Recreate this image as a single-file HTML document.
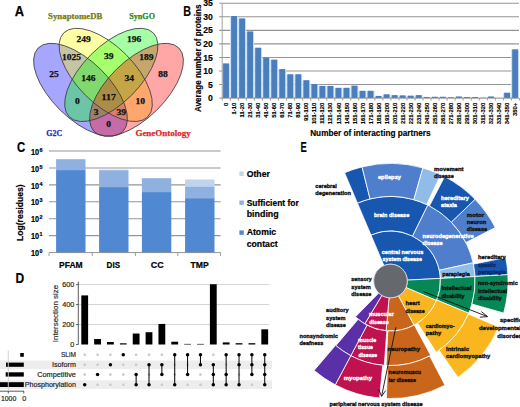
<!DOCTYPE html>
<html><head><meta charset="utf-8"><style>
html,body{margin:0;padding:0;background:#fff;}
body{width:520px;height:407px;overflow:hidden;position:relative;font-family:"Liberation Sans", sans-serif;}
svg{position:absolute;left:0;top:0;display:block;}
</style></head><body>
<svg width="520" height="407" viewBox="0 0 520 407">
<rect width="520" height="407" fill="#fff"/>
<ellipse cx="80.50" cy="89.80" rx="59.50" ry="28.70" transform="rotate(44.6 80.50 89.80)" fill="#0000ff" fill-opacity="0.35" stroke="none"/>
<ellipse cx="105.70" cy="74.90" rx="59.40" ry="28.70" transform="rotate(45 105.70 74.90)" fill="#ffff00" fill-opacity="0.35" stroke="none"/>
<ellipse cx="111.30" cy="74.90" rx="59.40" ry="28.70" transform="rotate(-45 111.30 74.90)" fill="#00ff00" fill-opacity="0.35" stroke="none"/>
<ellipse cx="136.50" cy="89.80" rx="59.50" ry="28.70" transform="rotate(-44.6 136.50 89.80)" fill="#ff0000" fill-opacity="0.35" stroke="none"/>
<ellipse cx="80.50" cy="89.80" rx="59.50" ry="28.70" transform="rotate(44.6 80.50 89.80)" fill="none" stroke="#3a3a3a" stroke-width="0.8"/>
<ellipse cx="105.70" cy="74.90" rx="59.40" ry="28.70" transform="rotate(45 105.70 74.90)" fill="none" stroke="#3a3a3a" stroke-width="0.8"/>
<ellipse cx="111.30" cy="74.90" rx="59.40" ry="28.70" transform="rotate(-45 111.30 74.90)" fill="none" stroke="#3a3a3a" stroke-width="0.8"/>
<ellipse cx="136.50" cy="89.80" rx="59.50" ry="28.70" transform="rotate(-44.6 136.50 89.80)" fill="none" stroke="#3a3a3a" stroke-width="0.8"/>
<text x="83.50" y="41.50" font-size="8.0" font-weight="bold" fill="#111" text-anchor="middle" font-family='"Liberation Serif", serif' textLength="14.25" lengthAdjust="spacingAndGlyphs" stroke="#111" stroke-width="0.25">249</text>
<text x="134.00" y="41.50" font-size="8.0" font-weight="bold" fill="#111" text-anchor="middle" font-family='"Liberation Serif", serif' textLength="14.25" lengthAdjust="spacingAndGlyphs" stroke="#111" stroke-width="0.25">196</text>
<text x="71.40" y="60.00" font-size="8.0" font-weight="bold" fill="#111" text-anchor="middle" font-family='"Liberation Serif", serif' textLength="19.00" lengthAdjust="spacingAndGlyphs" stroke="#111" stroke-width="0.25">1025</text>
<text x="108.70" y="58.70" font-size="8.0" font-weight="bold" fill="#111" text-anchor="middle" font-family='"Liberation Serif", serif' textLength="9.50" lengthAdjust="spacingAndGlyphs" stroke="#111" stroke-width="0.25">39</text>
<text x="146.30" y="59.90" font-size="8.0" font-weight="bold" fill="#111" text-anchor="middle" font-family='"Liberation Serif", serif' textLength="14.25" lengthAdjust="spacingAndGlyphs" stroke="#111" stroke-width="0.25">189</text>
<text x="54.10" y="76.80" font-size="8.0" font-weight="bold" fill="#111" text-anchor="middle" font-family='"Liberation Serif", serif' textLength="9.50" lengthAdjust="spacingAndGlyphs" stroke="#111" stroke-width="0.25">25</text>
<text x="88.40" y="81.00" font-size="8.0" font-weight="bold" fill="#111" text-anchor="middle" font-family='"Liberation Serif", serif' textLength="14.25" lengthAdjust="spacingAndGlyphs" stroke="#111" stroke-width="0.25">146</text>
<text x="129.20" y="81.00" font-size="8.0" font-weight="bold" fill="#111" text-anchor="middle" font-family='"Liberation Serif", serif' textLength="9.50" lengthAdjust="spacingAndGlyphs" stroke="#111" stroke-width="0.25">34</text>
<text x="163.00" y="76.80" font-size="8.0" font-weight="bold" fill="#111" text-anchor="middle" font-family='"Liberation Serif", serif' textLength="9.50" lengthAdjust="spacingAndGlyphs" stroke="#111" stroke-width="0.25">88</text>
<text x="77.30" y="104.40" font-size="8.0" font-weight="bold" fill="#111" text-anchor="middle" font-family='"Liberation Serif", serif' textLength="4.75" lengthAdjust="spacingAndGlyphs" stroke="#111" stroke-width="0.25">0</text>
<text x="108.70" y="99.70" font-size="8.0" font-weight="bold" fill="#111" text-anchor="middle" font-family='"Liberation Serif", serif' textLength="14.25" lengthAdjust="spacingAndGlyphs" stroke="#111" stroke-width="0.25">117</text>
<text x="140.20" y="104.40" font-size="8.0" font-weight="bold" fill="#111" text-anchor="middle" font-family='"Liberation Serif", serif' textLength="9.50" lengthAdjust="spacingAndGlyphs" stroke="#111" stroke-width="0.25">10</text>
<text x="96.00" y="114.80" font-size="8.0" font-weight="bold" fill="#111" text-anchor="middle" font-family='"Liberation Serif", serif' textLength="4.75" lengthAdjust="spacingAndGlyphs" stroke="#111" stroke-width="0.25">3</text>
<text x="121.30" y="114.80" font-size="8.0" font-weight="bold" fill="#111" text-anchor="middle" font-family='"Liberation Serif", serif' textLength="9.50" lengthAdjust="spacingAndGlyphs" stroke="#111" stroke-width="0.25">39</text>
<text x="108.70" y="126.60" font-size="8.0" font-weight="bold" fill="#111" text-anchor="middle" font-family='"Liberation Serif", serif' textLength="4.75" lengthAdjust="spacingAndGlyphs" stroke="#111" stroke-width="0.25">0</text>
<text x="48.00" y="19.00" font-size="8.8" font-weight="bold" fill="#7a7a10" text-anchor="start" font-family='"Liberation Serif", serif' textLength="54.50" lengthAdjust="spacingAndGlyphs" stroke="#7a7a10" stroke-width="0.25">SynaptomeDB</text>
<text x="129.30" y="19.00" font-size="8.8" font-weight="bold" fill="#1e8c28" text-anchor="start" font-family='"Liberation Serif", serif' textLength="25.70" lengthAdjust="spacingAndGlyphs" stroke="#1e8c28" stroke-width="0.25">SynGO</text>
<text x="46.20" y="135.80" font-size="8.8" font-weight="bold" fill="#2828c8" text-anchor="start" font-family='"Liberation Serif", serif' textLength="16.00" lengthAdjust="spacingAndGlyphs" stroke="#2828c8" stroke-width="0.25">G2C</text>
<text x="135.40" y="135.80" font-size="8.8" font-weight="bold" fill="#e02828" text-anchor="start" font-family='"Liberation Serif", serif' textLength="55.40" lengthAdjust="spacingAndGlyphs" stroke="#e02828" stroke-width="0.25">GeneOntology</text>
<text x="14.80" y="16.40" font-size="14.5" font-weight="bold" fill="#000" text-anchor="start" font-family='"Liberation Sans", sans-serif' textLength="9.30" lengthAdjust="spacingAndGlyphs" stroke="#000" stroke-width="0.25">A</text>
<line x1="219.2" y1="84.55" x2="519" y2="84.55" stroke="#959595" stroke-width="1.1"/>
<line x1="219.2" y1="71.00" x2="519" y2="71.00" stroke="#959595" stroke-width="1.1"/>
<line x1="219.2" y1="57.45" x2="519" y2="57.45" stroke="#959595" stroke-width="1.1"/>
<line x1="219.2" y1="43.90" x2="519" y2="43.90" stroke="#959595" stroke-width="1.1"/>
<line x1="219.2" y1="30.35" x2="519" y2="30.35" stroke="#959595" stroke-width="1.1"/>
<line x1="219.2" y1="16.80" x2="519" y2="16.80" stroke="#959595" stroke-width="1.1"/>
<line x1="219.2" y1="3.25" x2="519" y2="3.25" stroke="#959595" stroke-width="1.1"/>
<rect x="222.10" y="63.71" width="7.85" height="34.39" fill="#c6dff6"/>
<rect x="230.13" y="16.29" width="7.85" height="81.81" fill="#c6dff6"/>
<rect x="238.16" y="18.73" width="7.85" height="79.37" fill="#c6dff6"/>
<rect x="246.19" y="31.73" width="7.85" height="66.37" fill="#c6dff6"/>
<rect x="254.22" y="47.99" width="7.85" height="50.11" fill="#c6dff6"/>
<rect x="262.25" y="57.75" width="7.85" height="40.35" fill="#c6dff6"/>
<rect x="270.28" y="59.92" width="7.85" height="38.18" fill="#c6dff6"/>
<rect x="278.31" y="69.40" width="7.85" height="28.70" fill="#c6dff6"/>
<rect x="286.34" y="74.55" width="7.85" height="23.55" fill="#c6dff6"/>
<rect x="294.37" y="74.55" width="7.85" height="23.55" fill="#c6dff6"/>
<rect x="302.40" y="80.51" width="7.85" height="17.59" fill="#c6dff6"/>
<rect x="310.43" y="84.31" width="7.85" height="13.79" fill="#c6dff6"/>
<rect x="318.46" y="86.20" width="7.85" height="11.89" fill="#c6dff6"/>
<rect x="326.49" y="86.20" width="7.85" height="11.89" fill="#c6dff6"/>
<rect x="334.52" y="88.10" width="7.85" height="10.00" fill="#c6dff6"/>
<rect x="342.55" y="88.10" width="7.85" height="10.00" fill="#c6dff6"/>
<rect x="350.58" y="85.93" width="7.85" height="12.17" fill="#c6dff6"/>
<rect x="358.61" y="91.08" width="7.85" height="7.02" fill="#c6dff6"/>
<rect x="366.64" y="91.08" width="7.85" height="7.02" fill="#c6dff6"/>
<rect x="374.67" y="96.23" width="7.85" height="1.87" fill="#c6dff6"/>
<rect x="382.70" y="94.61" width="7.85" height="3.49" fill="#c6dff6"/>
<rect x="390.73" y="95.42" width="7.85" height="2.68" fill="#c6dff6"/>
<rect x="398.76" y="95.69" width="7.85" height="2.41" fill="#c6dff6"/>
<rect x="406.79" y="95.96" width="7.85" height="2.14" fill="#c6dff6"/>
<rect x="414.82" y="95.42" width="7.85" height="2.68" fill="#c6dff6"/>
<rect x="422.85" y="97.32" width="7.85" height="0.78" fill="#c6dff6"/>
<rect x="430.88" y="97.04" width="7.85" height="1.05" fill="#c6dff6"/>
<rect x="438.91" y="97.04" width="7.85" height="1.05" fill="#c6dff6"/>
<rect x="446.94" y="97.59" width="7.85" height="0.51" fill="#c6dff6"/>
<rect x="454.97" y="96.77" width="7.85" height="1.33" fill="#c6dff6"/>
<rect x="463.00" y="97.32" width="7.85" height="0.78" fill="#c6dff6"/>
<rect x="471.03" y="97.32" width="7.85" height="0.78" fill="#c6dff6"/>
<rect x="479.06" y="97.99" width="7.85" height="0.11" fill="#c6dff6"/>
<rect x="487.09" y="96.77" width="7.85" height="1.33" fill="#c6dff6"/>
<rect x="495.12" y="98.26" width="7.85" height="-0.16" fill="#c6dff6"/>
<rect x="503.15" y="92.98" width="7.85" height="5.12" fill="#c6dff6"/>
<rect x="511.18" y="49.62" width="7.85" height="48.48" fill="#c6dff6"/>
<rect x="223.10" y="63.41" width="5.85" height="34.69" fill="#4a7ebd"/>
<rect x="231.13" y="15.99" width="5.85" height="82.11" fill="#4a7ebd"/>
<rect x="239.16" y="18.43" width="5.85" height="79.67" fill="#4a7ebd"/>
<rect x="247.19" y="31.43" width="5.85" height="66.67" fill="#4a7ebd"/>
<rect x="255.22" y="47.69" width="5.85" height="50.41" fill="#4a7ebd"/>
<rect x="263.25" y="57.45" width="5.85" height="40.65" fill="#4a7ebd"/>
<rect x="271.28" y="59.62" width="5.85" height="38.48" fill="#4a7ebd"/>
<rect x="279.31" y="69.10" width="5.85" height="29.00" fill="#4a7ebd"/>
<rect x="287.34" y="74.25" width="5.85" height="23.85" fill="#4a7ebd"/>
<rect x="295.37" y="74.25" width="5.85" height="23.85" fill="#4a7ebd"/>
<rect x="303.40" y="80.21" width="5.85" height="17.89" fill="#4a7ebd"/>
<rect x="311.43" y="84.01" width="5.85" height="14.09" fill="#4a7ebd"/>
<rect x="319.46" y="85.91" width="5.85" height="12.20" fill="#4a7ebd"/>
<rect x="327.49" y="85.91" width="5.85" height="12.20" fill="#4a7ebd"/>
<rect x="335.52" y="87.80" width="5.85" height="10.30" fill="#4a7ebd"/>
<rect x="343.55" y="87.80" width="5.85" height="10.30" fill="#4a7ebd"/>
<rect x="351.58" y="85.63" width="5.85" height="12.47" fill="#4a7ebd"/>
<rect x="359.61" y="90.78" width="5.85" height="7.32" fill="#4a7ebd"/>
<rect x="367.64" y="90.78" width="5.85" height="7.32" fill="#4a7ebd"/>
<rect x="375.67" y="95.93" width="5.85" height="2.17" fill="#4a7ebd"/>
<rect x="383.70" y="94.31" width="5.85" height="3.79" fill="#4a7ebd"/>
<rect x="391.73" y="95.12" width="5.85" height="2.98" fill="#4a7ebd"/>
<rect x="399.76" y="95.39" width="5.85" height="2.71" fill="#4a7ebd"/>
<rect x="407.79" y="95.66" width="5.85" height="2.44" fill="#4a7ebd"/>
<rect x="415.82" y="95.12" width="5.85" height="2.98" fill="#4a7ebd"/>
<rect x="423.85" y="97.02" width="5.85" height="1.08" fill="#4a7ebd"/>
<rect x="431.88" y="96.74" width="5.85" height="1.35" fill="#4a7ebd"/>
<rect x="439.91" y="96.74" width="5.85" height="1.35" fill="#4a7ebd"/>
<rect x="447.94" y="97.29" width="5.85" height="0.81" fill="#4a7ebd"/>
<rect x="455.97" y="96.47" width="5.85" height="1.63" fill="#4a7ebd"/>
<rect x="464.00" y="97.02" width="5.85" height="1.08" fill="#4a7ebd"/>
<rect x="472.03" y="97.02" width="5.85" height="1.08" fill="#4a7ebd"/>
<rect x="480.06" y="97.69" width="5.85" height="0.41" fill="#4a7ebd"/>
<rect x="488.09" y="96.47" width="5.85" height="1.63" fill="#4a7ebd"/>
<rect x="496.12" y="97.96" width="5.85" height="0.14" fill="#4a7ebd"/>
<rect x="504.15" y="92.68" width="5.85" height="5.42" fill="#4a7ebd"/>
<rect x="512.18" y="49.32" width="5.85" height="48.78" fill="#4a7ebd"/>
<line x1="222.2" y1="3.2" x2="222.2" y2="98.1" stroke="#999" stroke-width="0.9"/>
<line x1="219.2" y1="98.10" x2="519" y2="98.10" stroke="#888" stroke-width="0.9"/>
<line x1="222.30" y1="98.1" x2="222.30" y2="100.6" stroke="#888" stroke-width="0.8"/>
<line x1="230.33" y1="98.1" x2="230.33" y2="100.6" stroke="#888" stroke-width="0.8"/>
<line x1="238.36" y1="98.1" x2="238.36" y2="100.6" stroke="#888" stroke-width="0.8"/>
<line x1="246.39" y1="98.1" x2="246.39" y2="100.6" stroke="#888" stroke-width="0.8"/>
<line x1="254.42" y1="98.1" x2="254.42" y2="100.6" stroke="#888" stroke-width="0.8"/>
<line x1="262.45" y1="98.1" x2="262.45" y2="100.6" stroke="#888" stroke-width="0.8"/>
<line x1="270.48" y1="98.1" x2="270.48" y2="100.6" stroke="#888" stroke-width="0.8"/>
<line x1="278.51" y1="98.1" x2="278.51" y2="100.6" stroke="#888" stroke-width="0.8"/>
<line x1="286.54" y1="98.1" x2="286.54" y2="100.6" stroke="#888" stroke-width="0.8"/>
<line x1="294.57" y1="98.1" x2="294.57" y2="100.6" stroke="#888" stroke-width="0.8"/>
<line x1="302.60" y1="98.1" x2="302.60" y2="100.6" stroke="#888" stroke-width="0.8"/>
<line x1="310.63" y1="98.1" x2="310.63" y2="100.6" stroke="#888" stroke-width="0.8"/>
<line x1="318.66" y1="98.1" x2="318.66" y2="100.6" stroke="#888" stroke-width="0.8"/>
<line x1="326.69" y1="98.1" x2="326.69" y2="100.6" stroke="#888" stroke-width="0.8"/>
<line x1="334.72" y1="98.1" x2="334.72" y2="100.6" stroke="#888" stroke-width="0.8"/>
<line x1="342.75" y1="98.1" x2="342.75" y2="100.6" stroke="#888" stroke-width="0.8"/>
<line x1="350.78" y1="98.1" x2="350.78" y2="100.6" stroke="#888" stroke-width="0.8"/>
<line x1="358.81" y1="98.1" x2="358.81" y2="100.6" stroke="#888" stroke-width="0.8"/>
<line x1="366.84" y1="98.1" x2="366.84" y2="100.6" stroke="#888" stroke-width="0.8"/>
<line x1="374.87" y1="98.1" x2="374.87" y2="100.6" stroke="#888" stroke-width="0.8"/>
<line x1="382.90" y1="98.1" x2="382.90" y2="100.6" stroke="#888" stroke-width="0.8"/>
<line x1="390.93" y1="98.1" x2="390.93" y2="100.6" stroke="#888" stroke-width="0.8"/>
<line x1="398.96" y1="98.1" x2="398.96" y2="100.6" stroke="#888" stroke-width="0.8"/>
<line x1="406.99" y1="98.1" x2="406.99" y2="100.6" stroke="#888" stroke-width="0.8"/>
<line x1="415.02" y1="98.1" x2="415.02" y2="100.6" stroke="#888" stroke-width="0.8"/>
<line x1="423.05" y1="98.1" x2="423.05" y2="100.6" stroke="#888" stroke-width="0.8"/>
<line x1="431.08" y1="98.1" x2="431.08" y2="100.6" stroke="#888" stroke-width="0.8"/>
<line x1="439.11" y1="98.1" x2="439.11" y2="100.6" stroke="#888" stroke-width="0.8"/>
<line x1="447.14" y1="98.1" x2="447.14" y2="100.6" stroke="#888" stroke-width="0.8"/>
<line x1="455.17" y1="98.1" x2="455.17" y2="100.6" stroke="#888" stroke-width="0.8"/>
<line x1="463.20" y1="98.1" x2="463.20" y2="100.6" stroke="#888" stroke-width="0.8"/>
<line x1="471.23" y1="98.1" x2="471.23" y2="100.6" stroke="#888" stroke-width="0.8"/>
<line x1="479.26" y1="98.1" x2="479.26" y2="100.6" stroke="#888" stroke-width="0.8"/>
<line x1="487.29" y1="98.1" x2="487.29" y2="100.6" stroke="#888" stroke-width="0.8"/>
<line x1="495.32" y1="98.1" x2="495.32" y2="100.6" stroke="#888" stroke-width="0.8"/>
<line x1="503.35" y1="98.1" x2="503.35" y2="100.6" stroke="#888" stroke-width="0.8"/>
<line x1="511.38" y1="98.1" x2="511.38" y2="100.6" stroke="#888" stroke-width="0.8"/>
<line x1="519.41" y1="98.1" x2="519.41" y2="100.6" stroke="#888" stroke-width="0.8"/>
<text x="212.70" y="101.20" font-size="8.6" font-weight="bold" fill="#000" text-anchor="end" font-family='"Liberation Sans", sans-serif' stroke="#000" stroke-width="0.15">0</text>
<text x="212.70" y="87.65" font-size="8.6" font-weight="bold" fill="#000" text-anchor="end" font-family='"Liberation Sans", sans-serif' stroke="#000" stroke-width="0.15">5</text>
<text x="212.70" y="74.10" font-size="8.6" font-weight="bold" fill="#000" text-anchor="end" font-family='"Liberation Sans", sans-serif' stroke="#000" stroke-width="0.15">10</text>
<text x="212.70" y="60.55" font-size="8.6" font-weight="bold" fill="#000" text-anchor="end" font-family='"Liberation Sans", sans-serif' stroke="#000" stroke-width="0.15">15</text>
<text x="212.70" y="47.00" font-size="8.6" font-weight="bold" fill="#000" text-anchor="end" font-family='"Liberation Sans", sans-serif' stroke="#000" stroke-width="0.15">20</text>
<text x="212.70" y="33.45" font-size="8.6" font-weight="bold" fill="#000" text-anchor="end" font-family='"Liberation Sans", sans-serif' stroke="#000" stroke-width="0.15">25</text>
<text x="212.70" y="19.90" font-size="8.6" font-weight="bold" fill="#000" text-anchor="end" font-family='"Liberation Sans", sans-serif' stroke="#000" stroke-width="0.15">30</text>
<text x="212.70" y="6.35" font-size="8.6" font-weight="bold" fill="#000" text-anchor="end" font-family='"Liberation Sans", sans-serif' stroke="#000" stroke-width="0.15">35</text>
<text transform="translate(228.10,102.70) rotate(-90)" x="0" y="0" font-size="5.9" font-weight="bold" fill="#000" text-anchor="end" font-family='"Liberation Sans", sans-serif' stroke="#000" stroke-width="0.15">0</text>
<text transform="translate(236.13,102.70) rotate(-90)" x="0" y="0" font-size="5.9" font-weight="bold" fill="#000" text-anchor="end" font-family='"Liberation Sans", sans-serif' stroke="#000" stroke-width="0.15">1-10</text>
<text transform="translate(244.16,102.70) rotate(-90)" x="0" y="0" font-size="5.9" font-weight="bold" fill="#000" text-anchor="end" font-family='"Liberation Sans", sans-serif' stroke="#000" stroke-width="0.15">11-20</text>
<text transform="translate(252.19,102.70) rotate(-90)" x="0" y="0" font-size="5.9" font-weight="bold" fill="#000" text-anchor="end" font-family='"Liberation Sans", sans-serif' stroke="#000" stroke-width="0.15">21-30</text>
<text transform="translate(260.22,102.70) rotate(-90)" x="0" y="0" font-size="5.9" font-weight="bold" fill="#000" text-anchor="end" font-family='"Liberation Sans", sans-serif' stroke="#000" stroke-width="0.15">31-40</text>
<text transform="translate(268.25,102.70) rotate(-90)" x="0" y="0" font-size="5.9" font-weight="bold" fill="#000" text-anchor="end" font-family='"Liberation Sans", sans-serif' stroke="#000" stroke-width="0.15">41-50</text>
<text transform="translate(276.28,102.70) rotate(-90)" x="0" y="0" font-size="5.9" font-weight="bold" fill="#000" text-anchor="end" font-family='"Liberation Sans", sans-serif' stroke="#000" stroke-width="0.15">51-60</text>
<text transform="translate(284.31,102.70) rotate(-90)" x="0" y="0" font-size="5.9" font-weight="bold" fill="#000" text-anchor="end" font-family='"Liberation Sans", sans-serif' stroke="#000" stroke-width="0.15">61-70</text>
<text transform="translate(292.34,102.70) rotate(-90)" x="0" y="0" font-size="5.9" font-weight="bold" fill="#000" text-anchor="end" font-family='"Liberation Sans", sans-serif' stroke="#000" stroke-width="0.15">71-80</text>
<text transform="translate(300.37,102.70) rotate(-90)" x="0" y="0" font-size="5.9" font-weight="bold" fill="#000" text-anchor="end" font-family='"Liberation Sans", sans-serif' stroke="#000" stroke-width="0.15">81-90</text>
<text transform="translate(308.40,102.70) rotate(-90)" x="0" y="0" font-size="5.9" font-weight="bold" fill="#000" text-anchor="end" font-family='"Liberation Sans", sans-serif' stroke="#000" stroke-width="0.15">91-100</text>
<text transform="translate(316.43,102.70) rotate(-90)" x="0" y="0" font-size="5.9" font-weight="bold" fill="#000" text-anchor="end" font-family='"Liberation Sans", sans-serif' stroke="#000" stroke-width="0.15">101-110</text>
<text transform="translate(324.46,102.70) rotate(-90)" x="0" y="0" font-size="5.9" font-weight="bold" fill="#000" text-anchor="end" font-family='"Liberation Sans", sans-serif' stroke="#000" stroke-width="0.15">111-120</text>
<text transform="translate(332.49,102.70) rotate(-90)" x="0" y="0" font-size="5.9" font-weight="bold" fill="#000" text-anchor="end" font-family='"Liberation Sans", sans-serif' stroke="#000" stroke-width="0.15">121-130</text>
<text transform="translate(340.52,102.70) rotate(-90)" x="0" y="0" font-size="5.9" font-weight="bold" fill="#000" text-anchor="end" font-family='"Liberation Sans", sans-serif' stroke="#000" stroke-width="0.15">131-140</text>
<text transform="translate(348.55,102.70) rotate(-90)" x="0" y="0" font-size="5.9" font-weight="bold" fill="#000" text-anchor="end" font-family='"Liberation Sans", sans-serif' stroke="#000" stroke-width="0.15">141-150</text>
<text transform="translate(356.58,102.70) rotate(-90)" x="0" y="0" font-size="5.9" font-weight="bold" fill="#000" text-anchor="end" font-family='"Liberation Sans", sans-serif' stroke="#000" stroke-width="0.15">151-160</text>
<text transform="translate(364.61,102.70) rotate(-90)" x="0" y="0" font-size="5.9" font-weight="bold" fill="#000" text-anchor="end" font-family='"Liberation Sans", sans-serif' stroke="#000" stroke-width="0.15">161-170</text>
<text transform="translate(372.64,102.70) rotate(-90)" x="0" y="0" font-size="5.9" font-weight="bold" fill="#000" text-anchor="end" font-family='"Liberation Sans", sans-serif' stroke="#000" stroke-width="0.15">171-180</text>
<text transform="translate(380.67,102.70) rotate(-90)" x="0" y="0" font-size="5.9" font-weight="bold" fill="#000" text-anchor="end" font-family='"Liberation Sans", sans-serif' stroke="#000" stroke-width="0.15">181-190</text>
<text transform="translate(388.70,102.70) rotate(-90)" x="0" y="0" font-size="5.9" font-weight="bold" fill="#000" text-anchor="end" font-family='"Liberation Sans", sans-serif' stroke="#000" stroke-width="0.15">191-200</text>
<text transform="translate(396.73,102.70) rotate(-90)" x="0" y="0" font-size="5.9" font-weight="bold" fill="#000" text-anchor="end" font-family='"Liberation Sans", sans-serif' stroke="#000" stroke-width="0.15">201-210</text>
<text transform="translate(404.76,102.70) rotate(-90)" x="0" y="0" font-size="5.9" font-weight="bold" fill="#000" text-anchor="end" font-family='"Liberation Sans", sans-serif' stroke="#000" stroke-width="0.15">211-220</text>
<text transform="translate(412.79,102.70) rotate(-90)" x="0" y="0" font-size="5.9" font-weight="bold" fill="#000" text-anchor="end" font-family='"Liberation Sans", sans-serif' stroke="#000" stroke-width="0.15">221-230</text>
<text transform="translate(420.82,102.70) rotate(-90)" x="0" y="0" font-size="5.9" font-weight="bold" fill="#000" text-anchor="end" font-family='"Liberation Sans", sans-serif' stroke="#000" stroke-width="0.15">231-240</text>
<text transform="translate(428.85,102.70) rotate(-90)" x="0" y="0" font-size="5.9" font-weight="bold" fill="#000" text-anchor="end" font-family='"Liberation Sans", sans-serif' stroke="#000" stroke-width="0.15">241-250</text>
<text transform="translate(436.88,102.70) rotate(-90)" x="0" y="0" font-size="5.9" font-weight="bold" fill="#000" text-anchor="end" font-family='"Liberation Sans", sans-serif' stroke="#000" stroke-width="0.15">251-260</text>
<text transform="translate(444.91,102.70) rotate(-90)" x="0" y="0" font-size="5.9" font-weight="bold" fill="#000" text-anchor="end" font-family='"Liberation Sans", sans-serif' stroke="#000" stroke-width="0.15">261-270</text>
<text transform="translate(452.94,102.70) rotate(-90)" x="0" y="0" font-size="5.9" font-weight="bold" fill="#000" text-anchor="end" font-family='"Liberation Sans", sans-serif' stroke="#000" stroke-width="0.15">271-280</text>
<text transform="translate(460.97,102.70) rotate(-90)" x="0" y="0" font-size="5.9" font-weight="bold" fill="#000" text-anchor="end" font-family='"Liberation Sans", sans-serif' stroke="#000" stroke-width="0.15">281-290</text>
<text transform="translate(469.00,102.70) rotate(-90)" x="0" y="0" font-size="5.9" font-weight="bold" fill="#000" text-anchor="end" font-family='"Liberation Sans", sans-serif' stroke="#000" stroke-width="0.15">291-300</text>
<text transform="translate(477.03,102.70) rotate(-90)" x="0" y="0" font-size="5.9" font-weight="bold" fill="#000" text-anchor="end" font-family='"Liberation Sans", sans-serif' stroke="#000" stroke-width="0.15">301-310</text>
<text transform="translate(485.06,102.70) rotate(-90)" x="0" y="0" font-size="5.9" font-weight="bold" fill="#000" text-anchor="end" font-family='"Liberation Sans", sans-serif' stroke="#000" stroke-width="0.15">311-320</text>
<text transform="translate(493.09,102.70) rotate(-90)" x="0" y="0" font-size="5.9" font-weight="bold" fill="#000" text-anchor="end" font-family='"Liberation Sans", sans-serif' stroke="#000" stroke-width="0.15">321-330</text>
<text transform="translate(501.12,102.70) rotate(-90)" x="0" y="0" font-size="5.9" font-weight="bold" fill="#000" text-anchor="end" font-family='"Liberation Sans", sans-serif' stroke="#000" stroke-width="0.15">331-340</text>
<text transform="translate(509.15,102.70) rotate(-90)" x="0" y="0" font-size="5.9" font-weight="bold" fill="#000" text-anchor="end" font-family='"Liberation Sans", sans-serif' stroke="#000" stroke-width="0.15">341-350</text>
<text transform="translate(517.18,102.70) rotate(-90)" x="0" y="0" font-size="5.9" font-weight="bold" fill="#000" text-anchor="end" font-family='"Liberation Sans", sans-serif' stroke="#000" stroke-width="0.15">350+</text>
<text transform="translate(200.80,58.20) rotate(-90)" x="0" y="0" font-size="8.3" font-weight="bold" fill="#000" text-anchor="middle" font-family='"Liberation Sans", sans-serif' textLength="107.50" lengthAdjust="spacingAndGlyphs" stroke="#000" stroke-width="0.15">Average number of proteins</text>
<text x="310.20" y="136.30" font-size="8.3" font-weight="bold" fill="#000" text-anchor="start" font-family='"Liberation Sans", sans-serif' textLength="120.40" lengthAdjust="spacingAndGlyphs" stroke="#000" stroke-width="0.15">Number of interacting partners</text>
<text x="183.20" y="16.40" font-size="14.5" font-weight="bold" fill="#000" text-anchor="start" font-family='"Liberation Sans", sans-serif' textLength="7.80" lengthAdjust="spacingAndGlyphs" stroke="#000" stroke-width="0.15">B</text>
<line x1="49.0" y1="235.65" x2="220.6" y2="235.65" stroke="#959595" stroke-width="1.1"/>
<line x1="49.0" y1="218.72" x2="220.6" y2="218.72" stroke="#959595" stroke-width="1.1"/>
<line x1="49.0" y1="201.79" x2="220.6" y2="201.79" stroke="#959595" stroke-width="1.1"/>
<line x1="49.0" y1="184.86" x2="220.6" y2="184.86" stroke="#959595" stroke-width="1.1"/>
<line x1="49.0" y1="167.93" x2="220.6" y2="167.93" stroke="#959595" stroke-width="1.1"/>
<line x1="49.0" y1="151.00" x2="220.6" y2="151.00" stroke="#959595" stroke-width="1.1"/>
<rect x="56.10" y="159.20" width="29.4" height="0.00" fill="#c0d4ee"/>
<rect x="56.10" y="159.20" width="29.4" height="10.90" fill="#8eb1e0"/>
<rect x="56.10" y="170.10" width="29.4" height="82.48" fill="#5088d2"/>
<rect x="99.10" y="169.60" width="29.4" height="0.60" fill="#c0d4ee"/>
<rect x="99.10" y="170.20" width="29.4" height="16.90" fill="#8eb1e0"/>
<rect x="99.10" y="187.10" width="29.4" height="65.48" fill="#5088d2"/>
<rect x="141.90" y="178.20" width="29.4" height="0.00" fill="#c0d4ee"/>
<rect x="141.90" y="178.20" width="29.4" height="13.90" fill="#8eb1e0"/>
<rect x="141.90" y="192.10" width="29.4" height="60.48" fill="#5088d2"/>
<rect x="185.10" y="179.50" width="29.4" height="7.00" fill="#c0d4ee"/>
<rect x="185.10" y="186.50" width="29.4" height="11.70" fill="#8eb1e0"/>
<rect x="185.10" y="198.20" width="29.4" height="54.38" fill="#5088d2"/>
<line x1="49.0" y1="252.58" x2="220.6" y2="252.58" stroke="#888" stroke-width="0.9"/>
<line x1="49.0" y1="252.57999999999998" x2="49.0" y2="256.08" stroke="#888" stroke-width="0.8"/>
<line x1="92.3" y1="252.57999999999998" x2="92.3" y2="256.08" stroke="#888" stroke-width="0.8"/>
<line x1="135.4" y1="252.57999999999998" x2="135.4" y2="256.08" stroke="#888" stroke-width="0.8"/>
<line x1="177.8" y1="252.57999999999998" x2="177.8" y2="256.08" stroke="#888" stroke-width="0.8"/>
<line x1="220.6" y1="252.57999999999998" x2="220.6" y2="256.08" stroke="#888" stroke-width="0.8"/>
<text x="30.90" y="256.28" font-size="8.6" font-weight="bold" fill="#000" text-anchor="start" font-family='"Liberation Sans", sans-serif' textLength="8.10" lengthAdjust="spacingAndGlyphs" stroke="#000" stroke-width="0.2">10</text>
<text x="39.40" y="253.28" font-size="5.4" font-weight="bold" fill="#000" text-anchor="start" font-family='"Liberation Sans", sans-serif' textLength="3.00" lengthAdjust="spacingAndGlyphs" stroke="#000" stroke-width="0.2">0</text>
<text x="30.90" y="239.35" font-size="8.6" font-weight="bold" fill="#000" text-anchor="start" font-family='"Liberation Sans", sans-serif' textLength="8.10" lengthAdjust="spacingAndGlyphs" stroke="#000" stroke-width="0.2">10</text>
<text x="39.40" y="236.35" font-size="5.4" font-weight="bold" fill="#000" text-anchor="start" font-family='"Liberation Sans", sans-serif' textLength="3.00" lengthAdjust="spacingAndGlyphs" stroke="#000" stroke-width="0.2">1</text>
<text x="30.90" y="222.42" font-size="8.6" font-weight="bold" fill="#000" text-anchor="start" font-family='"Liberation Sans", sans-serif' textLength="8.10" lengthAdjust="spacingAndGlyphs" stroke="#000" stroke-width="0.2">10</text>
<text x="39.40" y="219.42" font-size="5.4" font-weight="bold" fill="#000" text-anchor="start" font-family='"Liberation Sans", sans-serif' textLength="3.00" lengthAdjust="spacingAndGlyphs" stroke="#000" stroke-width="0.2">2</text>
<text x="30.90" y="205.49" font-size="8.6" font-weight="bold" fill="#000" text-anchor="start" font-family='"Liberation Sans", sans-serif' textLength="8.10" lengthAdjust="spacingAndGlyphs" stroke="#000" stroke-width="0.2">10</text>
<text x="39.40" y="202.49" font-size="5.4" font-weight="bold" fill="#000" text-anchor="start" font-family='"Liberation Sans", sans-serif' textLength="3.00" lengthAdjust="spacingAndGlyphs" stroke="#000" stroke-width="0.2">3</text>
<text x="30.90" y="188.56" font-size="8.6" font-weight="bold" fill="#000" text-anchor="start" font-family='"Liberation Sans", sans-serif' textLength="8.10" lengthAdjust="spacingAndGlyphs" stroke="#000" stroke-width="0.2">10</text>
<text x="39.40" y="185.56" font-size="5.4" font-weight="bold" fill="#000" text-anchor="start" font-family='"Liberation Sans", sans-serif' textLength="3.00" lengthAdjust="spacingAndGlyphs" stroke="#000" stroke-width="0.2">4</text>
<text x="30.90" y="171.63" font-size="8.6" font-weight="bold" fill="#000" text-anchor="start" font-family='"Liberation Sans", sans-serif' textLength="8.10" lengthAdjust="spacingAndGlyphs" stroke="#000" stroke-width="0.2">10</text>
<text x="39.40" y="168.63" font-size="5.4" font-weight="bold" fill="#000" text-anchor="start" font-family='"Liberation Sans", sans-serif' textLength="3.00" lengthAdjust="spacingAndGlyphs" stroke="#000" stroke-width="0.2">5</text>
<text x="30.90" y="154.70" font-size="8.6" font-weight="bold" fill="#000" text-anchor="start" font-family='"Liberation Sans", sans-serif' textLength="8.10" lengthAdjust="spacingAndGlyphs" stroke="#000" stroke-width="0.2">10</text>
<text x="39.40" y="151.70" font-size="5.4" font-weight="bold" fill="#000" text-anchor="start" font-family='"Liberation Sans", sans-serif' textLength="3.00" lengthAdjust="spacingAndGlyphs" stroke="#000" stroke-width="0.2">6</text>
<text transform="translate(22.60,212.70) rotate(-90)" x="0" y="0" font-size="8.5" font-weight="bold" fill="#000" text-anchor="middle" font-family='"Liberation Sans", sans-serif' textLength="56.50" lengthAdjust="spacingAndGlyphs" stroke="#000" stroke-width="0.2">Log(residues)</text>
<text x="70.80" y="268.10" font-size="8.8" font-weight="bold" fill="#000" text-anchor="middle" font-family='"Liberation Sans", sans-serif' textLength="23.60" lengthAdjust="spacingAndGlyphs" stroke="#000" stroke-width="0.2">PFAM</text>
<text x="113.30" y="268.10" font-size="8.8" font-weight="bold" fill="#000" text-anchor="middle" font-family='"Liberation Sans", sans-serif' textLength="13.40" lengthAdjust="spacingAndGlyphs" stroke="#000" stroke-width="0.2">DIS</text>
<text x="157.20" y="268.10" font-size="8.8" font-weight="bold" fill="#000" text-anchor="middle" font-family='"Liberation Sans", sans-serif' textLength="13.00" lengthAdjust="spacingAndGlyphs" stroke="#000" stroke-width="0.2">CC</text>
<text x="199.60" y="268.10" font-size="8.8" font-weight="bold" fill="#000" text-anchor="middle" font-family='"Liberation Sans", sans-serif' textLength="18.20" lengthAdjust="spacingAndGlyphs" stroke="#000" stroke-width="0.2">TMP</text>
<rect x="239.4" y="171.5" width="4.4" height="4.4" fill="#c0d4ee"/>
<rect x="239.4" y="200.5" width="4.4" height="4.4" fill="#8eb1e0"/>
<rect x="239.4" y="230.4" width="4.4" height="4.4" fill="#5088d2"/>
<text x="246.70" y="177.00" font-size="9.2" font-weight="bold" fill="#000" text-anchor="start" font-family='"Liberation Sans", sans-serif' textLength="23.20" lengthAdjust="spacingAndGlyphs" stroke="#000" stroke-width="0.2">Other</text>
<text x="246.70" y="205.80" font-size="9.2" font-weight="bold" fill="#000" text-anchor="start" font-family='"Liberation Sans", sans-serif' textLength="52.00" lengthAdjust="spacingAndGlyphs" stroke="#000" stroke-width="0.2">Sufficient for</text>
<text x="246.70" y="217.40" font-size="9.2" font-weight="bold" fill="#000" text-anchor="start" font-family='"Liberation Sans", sans-serif' textLength="32.00" lengthAdjust="spacingAndGlyphs" stroke="#000" stroke-width="0.2">binding</text>
<text x="246.70" y="235.20" font-size="9.2" font-weight="bold" fill="#000" text-anchor="start" font-family='"Liberation Sans", sans-serif' textLength="29.50" lengthAdjust="spacingAndGlyphs" stroke="#000" stroke-width="0.2">Atomic</text>
<text x="246.70" y="246.90" font-size="9.2" font-weight="bold" fill="#000" text-anchor="start" font-family='"Liberation Sans", sans-serif' textLength="31.00" lengthAdjust="spacingAndGlyphs" stroke="#000" stroke-width="0.2">contact</text>
<text x="17.00" y="152.10" font-size="14.5" font-weight="bold" fill="#000" text-anchor="start" font-family='"Liberation Sans", sans-serif' textLength="8.20" lengthAdjust="spacingAndGlyphs" stroke="#000" stroke-width="0.2">C</text>
<line x1="78.3" y1="324.54" x2="269.4" y2="324.54" stroke="#d4d4d4" stroke-width="1"/>
<line x1="78.3" y1="304.58" x2="269.4" y2="304.58" stroke="#d4d4d4" stroke-width="1"/>
<line x1="78.3" y1="284.62" x2="269.4" y2="284.62" stroke="#d4d4d4" stroke-width="1"/>
<rect x="0" y="360.5" width="272" height="8.6" fill="#ededed"/>
<rect x="0" y="380.3" width="272" height="8.6" fill="#ededed"/>
<rect x="81.30" y="295.40" width="6.8" height="49.10" fill="#000"/>
<rect x="94.16" y="339.01" width="6.8" height="5.49" fill="#000"/>
<rect x="107.02" y="342.00" width="6.8" height="2.50" fill="#000"/>
<rect x="119.88" y="343.30" width="6.8" height="1.20" fill="#000"/>
<rect x="132.74" y="333.52" width="6.8" height="10.98" fill="#000"/>
<rect x="145.60" y="332.22" width="6.8" height="12.28" fill="#000"/>
<rect x="158.46" y="323.94" width="6.8" height="20.56" fill="#000"/>
<rect x="171.32" y="341.71" width="6.8" height="2.79" fill="#000"/>
<rect x="184.18" y="343.90" width="6.8" height="0.60" fill="#000"/>
<rect x="197.04" y="343.90" width="6.8" height="0.60" fill="#000"/>
<rect x="209.90" y="284.22" width="6.8" height="60.28" fill="#000"/>
<rect x="222.76" y="342.40" width="6.8" height="2.10" fill="#000"/>
<rect x="235.62" y="343.20" width="6.8" height="1.30" fill="#000"/>
<rect x="248.48" y="343.20" width="6.8" height="1.30" fill="#000"/>
<rect x="261.34" y="329.33" width="6.8" height="15.17" fill="#000"/>
<line x1="78.3" y1="281.5" x2="78.3" y2="344.5" stroke="#333" stroke-width="0.8"/>
<line x1="76.1" y1="344.50" x2="78.3" y2="344.50" stroke="#333" stroke-width="0.8"/>
<text x="74.30" y="347.10" font-size="7.2" font-weight="normal" fill="#222" text-anchor="end" font-family='"Liberation Sans", sans-serif' stroke="#222" stroke-width="0.18">0</text>
<line x1="76.1" y1="324.54" x2="78.3" y2="324.54" stroke="#333" stroke-width="0.8"/>
<text x="74.30" y="327.14" font-size="7.2" font-weight="normal" fill="#222" text-anchor="end" font-family='"Liberation Sans", sans-serif' stroke="#222" stroke-width="0.18">200</text>
<line x1="76.1" y1="304.58" x2="78.3" y2="304.58" stroke="#333" stroke-width="0.8"/>
<text x="74.30" y="307.18" font-size="7.2" font-weight="normal" fill="#222" text-anchor="end" font-family='"Liberation Sans", sans-serif' stroke="#222" stroke-width="0.18">400</text>
<line x1="76.1" y1="284.62" x2="78.3" y2="284.62" stroke="#333" stroke-width="0.8"/>
<text x="74.30" y="287.22" font-size="7.2" font-weight="normal" fill="#222" text-anchor="end" font-family='"Liberation Sans", sans-serif' stroke="#222" stroke-width="0.18">600</text>
<text transform="translate(57.70,313.50) rotate(-90)" x="0" y="0" font-size="7.6" font-weight="normal" fill="#333" text-anchor="middle" font-family='"Liberation Sans", sans-serif' textLength="57.50" lengthAdjust="spacingAndGlyphs" stroke="#333" stroke-width="0.18">Intersection size</text>
<circle cx="84.70" cy="354.8" r="1.3" fill="#c8c8c8"/>
<circle cx="84.70" cy="364.8" r="1.3" fill="#c8c8c8"/>
<circle cx="84.70" cy="374.6" r="1.3" fill="#c8c8c8"/>
<circle cx="84.70" cy="384.7" r="1.75" fill="#000"/>
<circle cx="97.56" cy="354.8" r="1.3" fill="#c8c8c8"/>
<circle cx="97.56" cy="364.8" r="1.3" fill="#c8c8c8"/>
<circle cx="97.56" cy="384.7" r="1.3" fill="#c8c8c8"/>
<circle cx="97.56" cy="374.6" r="1.75" fill="#000"/>
<circle cx="110.42" cy="354.8" r="1.3" fill="#c8c8c8"/>
<circle cx="110.42" cy="374.6" r="1.3" fill="#c8c8c8"/>
<circle cx="110.42" cy="384.7" r="1.3" fill="#c8c8c8"/>
<circle cx="110.42" cy="364.8" r="1.75" fill="#000"/>
<circle cx="123.28" cy="364.8" r="1.3" fill="#c8c8c8"/>
<circle cx="123.28" cy="374.6" r="1.3" fill="#c8c8c8"/>
<circle cx="123.28" cy="384.7" r="1.3" fill="#c8c8c8"/>
<circle cx="123.28" cy="354.8" r="1.75" fill="#000"/>
<circle cx="136.14" cy="354.8" r="1.3" fill="#c8c8c8"/>
<circle cx="136.14" cy="364.8" r="1.3" fill="#c8c8c8"/>
<line x1="136.14" y1="374.6" x2="136.14" y2="384.7" stroke="#000" stroke-width="1.0"/>
<circle cx="136.14" cy="374.6" r="1.75" fill="#000"/>
<circle cx="136.14" cy="384.7" r="1.75" fill="#000"/>
<circle cx="149.00" cy="354.8" r="1.3" fill="#c8c8c8"/>
<circle cx="149.00" cy="374.6" r="1.3" fill="#c8c8c8"/>
<line x1="149.00" y1="364.8" x2="149.00" y2="384.7" stroke="#000" stroke-width="1.0"/>
<circle cx="149.00" cy="364.8" r="1.75" fill="#000"/>
<circle cx="149.00" cy="384.7" r="1.75" fill="#000"/>
<circle cx="161.86" cy="354.8" r="1.3" fill="#c8c8c8"/>
<circle cx="161.86" cy="384.7" r="1.3" fill="#c8c8c8"/>
<line x1="161.86" y1="364.8" x2="161.86" y2="374.6" stroke="#000" stroke-width="1.0"/>
<circle cx="161.86" cy="364.8" r="1.75" fill="#000"/>
<circle cx="161.86" cy="374.6" r="1.75" fill="#000"/>
<circle cx="174.72" cy="364.8" r="1.3" fill="#c8c8c8"/>
<circle cx="174.72" cy="374.6" r="1.3" fill="#c8c8c8"/>
<line x1="174.72" y1="354.8" x2="174.72" y2="384.7" stroke="#000" stroke-width="1.0"/>
<circle cx="174.72" cy="354.8" r="1.75" fill="#000"/>
<circle cx="174.72" cy="384.7" r="1.75" fill="#000"/>
<circle cx="187.58" cy="364.8" r="1.3" fill="#c8c8c8"/>
<circle cx="187.58" cy="384.7" r="1.3" fill="#c8c8c8"/>
<line x1="187.58" y1="354.8" x2="187.58" y2="374.6" stroke="#000" stroke-width="1.0"/>
<circle cx="187.58" cy="354.8" r="1.75" fill="#000"/>
<circle cx="187.58" cy="374.6" r="1.75" fill="#000"/>
<circle cx="200.44" cy="374.6" r="1.3" fill="#c8c8c8"/>
<circle cx="200.44" cy="384.7" r="1.3" fill="#c8c8c8"/>
<line x1="200.44" y1="354.8" x2="200.44" y2="364.8" stroke="#000" stroke-width="1.0"/>
<circle cx="200.44" cy="354.8" r="1.75" fill="#000"/>
<circle cx="200.44" cy="364.8" r="1.75" fill="#000"/>
<circle cx="213.30" cy="354.8" r="1.3" fill="#c8c8c8"/>
<line x1="213.30" y1="364.8" x2="213.30" y2="384.7" stroke="#000" stroke-width="1.0"/>
<circle cx="213.30" cy="364.8" r="1.75" fill="#000"/>
<circle cx="213.30" cy="374.6" r="1.75" fill="#000"/>
<circle cx="213.30" cy="384.7" r="1.75" fill="#000"/>
<circle cx="226.16" cy="364.8" r="1.3" fill="#c8c8c8"/>
<line x1="226.16" y1="354.8" x2="226.16" y2="384.7" stroke="#000" stroke-width="1.0"/>
<circle cx="226.16" cy="354.8" r="1.75" fill="#000"/>
<circle cx="226.16" cy="374.6" r="1.75" fill="#000"/>
<circle cx="226.16" cy="384.7" r="1.75" fill="#000"/>
<circle cx="239.02" cy="374.6" r="1.3" fill="#c8c8c8"/>
<line x1="239.02" y1="354.8" x2="239.02" y2="384.7" stroke="#000" stroke-width="1.0"/>
<circle cx="239.02" cy="354.8" r="1.75" fill="#000"/>
<circle cx="239.02" cy="364.8" r="1.75" fill="#000"/>
<circle cx="239.02" cy="384.7" r="1.75" fill="#000"/>
<circle cx="251.88" cy="384.7" r="1.3" fill="#c8c8c8"/>
<line x1="251.88" y1="354.8" x2="251.88" y2="374.6" stroke="#000" stroke-width="1.0"/>
<circle cx="251.88" cy="354.8" r="1.75" fill="#000"/>
<circle cx="251.88" cy="364.8" r="1.75" fill="#000"/>
<circle cx="251.88" cy="374.6" r="1.75" fill="#000"/>
<line x1="264.74" y1="354.8" x2="264.74" y2="384.7" stroke="#000" stroke-width="1.0"/>
<circle cx="264.74" cy="354.8" r="1.75" fill="#000"/>
<circle cx="264.74" cy="364.8" r="1.75" fill="#000"/>
<circle cx="264.74" cy="374.6" r="1.75" fill="#000"/>
<circle cx="264.74" cy="384.7" r="1.75" fill="#000"/>
<text x="75.90" y="357.40" font-size="7.4" font-weight="normal" fill="#222" text-anchor="end" font-family='"Liberation Sans", sans-serif' textLength="14.90" lengthAdjust="spacingAndGlyphs" stroke="#222" stroke-width="0.18">SLiM</text>
<text x="75.90" y="367.40" font-size="7.4" font-weight="normal" fill="#222" text-anchor="end" font-family='"Liberation Sans", sans-serif' textLength="23.90" lengthAdjust="spacingAndGlyphs" stroke="#222" stroke-width="0.18">Isoform</text>
<text x="75.90" y="377.20" font-size="7.4" font-weight="normal" fill="#222" text-anchor="end" font-family='"Liberation Sans", sans-serif' textLength="38.70" lengthAdjust="spacingAndGlyphs" stroke="#222" stroke-width="0.18">Competitive</text>
<text x="75.90" y="387.30" font-size="7.4" font-weight="normal" fill="#222" text-anchor="end" font-family='"Liberation Sans", sans-serif' textLength="51.20" lengthAdjust="spacingAndGlyphs" stroke="#222" stroke-width="0.18">Phosphorylation</text>
<rect x="20.2" y="353.0" width="3.60" height="3.80" fill="#000"/>
<rect x="6.0" y="362.6" width="17.80" height="4.20" fill="#000"/>
<rect x="5.7" y="372.3" width="18.10" height="4.30" fill="#000"/>
<rect x="0.0" y="382.2" width="23.80" height="4.80" fill="#000"/>
<line x1="8.3" y1="350.5" x2="8.3" y2="390.5" stroke="#d0d0d0" stroke-width="0.9"/>
<line x1="0" y1="391.2" x2="24" y2="391.2" stroke="#333" stroke-width="0.8"/>
<line x1="8.3" y1="391.2" x2="8.3" y2="393.5" stroke="#333" stroke-width="0.8"/>
<line x1="23.8" y1="391.2" x2="23.8" y2="393.5" stroke="#333" stroke-width="0.8"/>
<text x="8.60" y="400.60" font-size="7.2" font-weight="normal" fill="#222" text-anchor="middle" font-family='"Liberation Sans", sans-serif' textLength="15.40" lengthAdjust="spacingAndGlyphs" stroke="#222" stroke-width="0.18">1000</text>
<text x="24.20" y="400.60" font-size="7.2" font-weight="normal" fill="#222" text-anchor="middle" font-family='"Liberation Sans", sans-serif' stroke="#222" stroke-width="0.18">0</text>
<text x="15.50" y="283.20" font-size="14.5" font-weight="bold" fill="#000" text-anchor="start" font-family='"Liberation Sans", sans-serif' textLength="8.70" lengthAdjust="spacingAndGlyphs" stroke="#000" stroke-width="0.18">D</text>
<path d="M370.96,234.97 A50.0,50.0 0 0 1 440.43,278.38 L407.28,280.12 A16.8,16.8 0 0 0 383.94,265.54 Z" fill="#1757b0" stroke="#fff" stroke-width="0.8" stroke-linejoin="round"/>
<path d="M440.43,278.38 A50.0,50.0 0 0 1 436.53,300.54 L405.96,287.56 A16.8,16.8 0 0 0 407.28,280.12 Z" fill="#068856" stroke="#fff" stroke-width="0.8" stroke-linejoin="round"/>
<path d="M436.53,300.54 A50.0,50.0 0 0 1 413.97,325.15 L398.39,295.83 A16.8,16.8 0 0 0 405.96,287.56 Z" fill="#f9b61e" stroke="#fff" stroke-width="0.8" stroke-linejoin="round"/>
<path d="M413.97,325.15 A50.0,50.0 0 0 1 386.14,330.81 L389.04,297.74 A16.8,16.8 0 0 0 398.39,295.83 Z" fill="#c9661c" stroke="#fff" stroke-width="0.8" stroke-linejoin="round"/>
<path d="M386.14,330.81 A50.0,50.0 0 0 1 364.75,323.86 L381.85,295.40 A16.8,16.8 0 0 0 389.04,297.74 Z" fill="#c0124e" stroke="#fff" stroke-width="0.8" stroke-linejoin="round"/>
<path d="M364.75,323.86 A50.0,50.0 0 0 1 355.52,316.72 L378.75,293.00 A16.8,16.8 0 0 0 381.85,295.40 Z" fill="#5b2fa8" stroke="#fff" stroke-width="0.8" stroke-linejoin="round"/>
<path d="M357.44,203.13 A84.6,84.6 0 0 1 427.85,205.09 L412.58,236.14 A50.0,50.0 0 0 0 370.96,234.97 Z" fill="#1757b0" stroke="#fff" stroke-width="0.8" stroke-linejoin="round"/>
<path d="M427.85,205.09 A84.6,84.6 0 0 1 473.13,262.83 L439.33,270.26 A50.0,50.0 0 0 0 412.58,236.14 Z" fill="#4f7fcc" stroke="#fff" stroke-width="0.8" stroke-linejoin="round"/>
<path d="M473.13,262.83 A84.6,84.6 0 0 1 474.98,276.57 L440.43,278.38 A50.0,50.0 0 0 0 439.33,270.26 Z" fill="#8fbde8" stroke="#fff" stroke-width="0.8" stroke-linejoin="round"/>
<path d="M474.98,276.57 A84.6,84.6 0 0 1 468.72,313.24 L436.73,300.05 A50.0,50.0 0 0 0 440.43,278.38 Z" fill="#068856" stroke="#fff" stroke-width="0.8" stroke-linejoin="round"/>
<path d="M468.72,313.24 A84.6,84.6 0 0 1 436.20,352.19 L417.51,323.08 A50.0,50.0 0 0 0 436.73,300.05 Z" fill="#f9b61e" stroke="#fff" stroke-width="0.8" stroke-linejoin="round"/>
<path d="M430.74,355.42 A84.6,84.6 0 0 1 386.07,365.48 L387.88,330.93 A50.0,50.0 0 0 0 414.28,324.98 Z" fill="#c9661c" stroke="#fff" stroke-width="0.8" stroke-linejoin="round"/>
<path d="M384.30,365.37 A84.6,84.6 0 0 1 350.78,355.70 L367.03,325.15 A50.0,50.0 0 0 0 386.84,330.87 Z" fill="#c0124e" stroke="#fff" stroke-width="0.8" stroke-linejoin="round"/>
<path d="M350.78,355.70 A84.6,84.6 0 0 1 335.89,345.62 L358.23,319.19 A50.0,50.0 0 0 0 367.03,325.15 Z" fill="#5b2fa8" stroke="#fff" stroke-width="0.8" stroke-linejoin="round"/>
<path d="M344.55,172.75 A117.6,117.6 0 0 1 362.05,166.89 L370.03,198.91 A84.6,84.6 0 0 0 357.44,203.13 Z" fill="#1757b0" stroke="#fff" stroke-width="0.8" stroke-linejoin="round"/>
<path d="M362.05,166.89 A117.6,117.6 0 0 1 422.91,167.96 L413.82,199.68 A84.6,84.6 0 0 0 370.03,198.91 Z" fill="#4f7fcc" stroke="#fff" stroke-width="0.8" stroke-linejoin="round"/>
<path d="M422.91,167.96 A117.6,117.6 0 0 1 440.76,174.68 L426.65,204.51 A84.6,84.6 0 0 0 413.82,199.68 Z" fill="#8fbde8" stroke="#fff" stroke-width="0.8" stroke-linejoin="round"/>
<path d="M444.62,176.59 A117.6,117.6 0 0 1 475.09,199.31 L451.36,222.23 A84.6,84.6 0 0 0 429.43,205.89 Z" fill="#1757b0" stroke="#fff" stroke-width="0.8" stroke-linejoin="round"/>
<path d="M475.09,199.31 A117.6,117.6 0 0 1 495.28,227.61 L465.88,242.59 A84.6,84.6 0 0 0 451.36,222.23 Z" fill="#4f7fcc" stroke="#fff" stroke-width="0.8" stroke-linejoin="round"/>
<path d="M505.74,257.55 A117.6,117.6 0 0 1 507.93,274.64 L474.98,276.42 A84.6,84.6 0 0 0 473.40,264.13 Z" fill="#1757b0" stroke="#fff" stroke-width="0.8" stroke-linejoin="round"/>
<path d="M507.93,274.64 A117.6,117.6 0 0 1 503.66,313.02 L471.90,304.03 A84.6,84.6 0 0 0 474.98,276.42 Z" fill="#068856" stroke="#fff" stroke-width="0.8" stroke-linejoin="round"/>
<path d="M498.75,326.95 A117.6,117.6 0 0 1 457.95,377.33 L439.02,350.30 A84.6,84.6 0 0 0 468.37,314.06 Z" fill="#f9b61e" stroke="#fff" stroke-width="0.8" stroke-linejoin="round"/>
<path d="M444.98,385.22 A117.6,117.6 0 0 1 386.40,398.53 L387.55,365.55 A84.6,84.6 0 0 0 429.69,355.97 Z" fill="#c9661c" stroke="#fff" stroke-width="0.8" stroke-linejoin="round"/>
<path d="M379.64,398.10 A117.6,117.6 0 0 1 335.29,384.83 L350.78,355.70 A84.6,84.6 0 0 0 382.69,365.24 Z" fill="#c0124e" stroke="#fff" stroke-width="0.8" stroke-linejoin="round"/>
<path d="M335.29,384.83 A117.6,117.6 0 0 1 314.12,370.42 L335.56,345.33 A84.6,84.6 0 0 0 350.78,355.70 Z" fill="#5b2fa8" stroke="#fff" stroke-width="0.8" stroke-linejoin="round"/>
<circle cx="390.5" cy="281.0" r="16.8" fill="#65686c" stroke="#dde" stroke-width="0.8"/>
<g stroke="#111" stroke-width="0.9" fill="none">
<line x1="423.5" y1="291.6" x2="487.5" y2="316.6"/>
<polyline points="481.4,311.6 487.5,316.6 479.8,317.2"/>
<line x1="395.8" y1="327.3" x2="381.6" y2="396.3"/>
<polyline points="378.6,389.4 381.6,396.3 385.6,390.6"/>
</g>
<text x="315.30" y="187.80" font-size="6.2" font-weight="bold" fill="#111" text-anchor="start" font-family='"Liberation Sans", sans-serif' textLength="21.60" lengthAdjust="spacingAndGlyphs" stroke="#111" stroke-width="0.35">cerebral</text>
<text x="315.30" y="195.10" font-size="6.2" font-weight="bold" fill="#111" text-anchor="start" font-family='"Liberation Sans", sans-serif' textLength="35.60" lengthAdjust="spacingAndGlyphs" stroke="#111" stroke-width="0.35">degeneration</text>
<text x="377.90" y="179.00" font-size="6.2" font-weight="bold" fill="#fff" text-anchor="start" font-family='"Liberation Sans", sans-serif' textLength="23.20" lengthAdjust="spacingAndGlyphs" stroke="#fff" stroke-width="0.35">epilepsy</text>
<text x="434.10" y="171.00" font-size="6.2" font-weight="bold" fill="#111" text-anchor="start" font-family='"Liberation Sans", sans-serif' textLength="29.50" lengthAdjust="spacingAndGlyphs" stroke="#111" stroke-width="0.35">movement</text>
<text x="434.10" y="178.00" font-size="6.2" font-weight="bold" fill="#111" text-anchor="start" font-family='"Liberation Sans", sans-serif' textLength="19.60" lengthAdjust="spacingAndGlyphs" stroke="#111" stroke-width="0.35">disease</text>
<text x="374.00" y="216.50" font-size="6.2" font-weight="bold" fill="#fff" text-anchor="start" font-family='"Liberation Sans", sans-serif' textLength="35.20" lengthAdjust="spacingAndGlyphs" stroke="#fff" stroke-width="0.35">brain disease</text>
<text x="441.00" y="199.70" font-size="6.2" font-weight="bold" fill="#fff" text-anchor="start" font-family='"Liberation Sans", sans-serif' textLength="28.00" lengthAdjust="spacingAndGlyphs" stroke="#fff" stroke-width="0.35">hereditary</text>
<text x="441.00" y="207.00" font-size="6.2" font-weight="bold" fill="#fff" text-anchor="start" font-family='"Liberation Sans", sans-serif' textLength="16.00" lengthAdjust="spacingAndGlyphs" stroke="#fff" stroke-width="0.35">ataxia</text>
<text x="466.80" y="216.60" font-size="6.2" font-weight="bold" fill="#111" text-anchor="start" font-family='"Liberation Sans", sans-serif' textLength="17.20" lengthAdjust="spacingAndGlyphs" stroke="#111" stroke-width="0.35">motor</text>
<text x="466.80" y="223.90" font-size="6.2" font-weight="bold" fill="#111" text-anchor="start" font-family='"Liberation Sans", sans-serif' textLength="19.40" lengthAdjust="spacingAndGlyphs" stroke="#111" stroke-width="0.35">neuron</text>
<text x="466.80" y="231.40" font-size="6.2" font-weight="bold" fill="#111" text-anchor="start" font-family='"Liberation Sans", sans-serif' textLength="20.30" lengthAdjust="spacingAndGlyphs" stroke="#111" stroke-width="0.35">disease</text>
<text x="422.60" y="238.20" font-size="6.2" font-weight="bold" fill="#fff" text-anchor="start" font-family='"Liberation Sans", sans-serif' textLength="51.10" lengthAdjust="spacingAndGlyphs" stroke="#fff" stroke-width="0.35">neurodegenerative</text>
<text x="422.60" y="244.70" font-size="6.2" font-weight="bold" fill="#fff" text-anchor="start" font-family='"Liberation Sans", sans-serif' textLength="19.80" lengthAdjust="spacingAndGlyphs" stroke="#fff" stroke-width="0.35">disease</text>
<text x="381.70" y="253.50" font-size="6.2" font-weight="bold" fill="#fff" text-anchor="start" font-family='"Liberation Sans", sans-serif' textLength="41.60" lengthAdjust="spacingAndGlyphs" stroke="#fff" stroke-width="0.35">central nervous</text>
<text x="382.60" y="260.80" font-size="6.2" font-weight="bold" fill="#fff" text-anchor="start" font-family='"Liberation Sans", sans-serif' textLength="39.30" lengthAdjust="spacingAndGlyphs" stroke="#fff" stroke-width="0.35">system disease</text>
<text x="478.00" y="258.60" font-size="6.2" font-weight="bold" fill="#111" text-anchor="start" font-family='"Liberation Sans", sans-serif' textLength="27.80" lengthAdjust="spacingAndGlyphs" stroke="#111" stroke-width="0.35">hereditary</text>
<text x="478.00" y="267.30" font-size="6.2" font-weight="bold" fill="#0a2a66" text-anchor="start" font-family='"Liberation Sans", sans-serif' textLength="17.90" lengthAdjust="spacingAndGlyphs" stroke="#0a2a66" stroke-width="0.35">spastic</text>
<text x="478.00" y="273.90" font-size="6.2" font-weight="bold" fill="#0a2a66" text-anchor="start" font-family='"Liberation Sans", sans-serif' textLength="27.80" lengthAdjust="spacingAndGlyphs" stroke="#0a2a66" stroke-width="0.35">paraplegia</text>
<text x="442.30" y="276.40" font-size="6.2" font-weight="bold" fill="#111" text-anchor="start" font-family='"Liberation Sans", sans-serif' textLength="27.40" lengthAdjust="spacingAndGlyphs" stroke="#111" stroke-width="0.35">paraplegia</text>
<text x="351.30" y="281.00" font-size="6.2" font-weight="bold" fill="#111" text-anchor="start" font-family='"Liberation Sans", sans-serif' textLength="20.50" lengthAdjust="spacingAndGlyphs" stroke="#111" stroke-width="0.35">sensory</text>
<text x="351.30" y="288.50" font-size="6.2" font-weight="bold" fill="#111" text-anchor="start" font-family='"Liberation Sans", sans-serif' textLength="19.40" lengthAdjust="spacingAndGlyphs" stroke="#111" stroke-width="0.35">system</text>
<text x="351.30" y="296.30" font-size="6.2" font-weight="bold" fill="#111" text-anchor="start" font-family='"Liberation Sans", sans-serif' textLength="19.90" lengthAdjust="spacingAndGlyphs" stroke="#111" stroke-width="0.35">disease</text>
<text x="441.50" y="290.00" font-size="6.2" font-weight="bold" fill="#111" text-anchor="start" font-family='"Liberation Sans", sans-serif' textLength="30.00" lengthAdjust="spacingAndGlyphs" stroke="#111" stroke-width="0.35">intellectual</text>
<text x="441.50" y="298.00" font-size="6.2" font-weight="bold" fill="#111" text-anchor="start" font-family='"Liberation Sans", sans-serif' textLength="23.00" lengthAdjust="spacingAndGlyphs" stroke="#111" stroke-width="0.35">disability</text>
<text x="478.00" y="285.20" font-size="6.2" font-weight="bold" fill="#111" text-anchor="start" font-family='"Liberation Sans", sans-serif' textLength="39.70" lengthAdjust="spacingAndGlyphs" stroke="#111" stroke-width="0.35">non-syndromic</text>
<text x="478.00" y="292.50" font-size="6.2" font-weight="bold" fill="#111" text-anchor="start" font-family='"Liberation Sans", sans-serif' textLength="29.10" lengthAdjust="spacingAndGlyphs" stroke="#111" stroke-width="0.35">intellectual</text>
<text x="478.00" y="299.70" font-size="6.2" font-weight="bold" fill="#111" text-anchor="start" font-family='"Liberation Sans", sans-serif' textLength="23.80" lengthAdjust="spacingAndGlyphs" stroke="#111" stroke-width="0.35">disability</text>
<text x="500.00" y="322.30" font-size="6.2" font-weight="bold" fill="#111" text-anchor="start" font-family='"Liberation Sans", sans-serif' textLength="22.00" lengthAdjust="spacingAndGlyphs" stroke="#111" stroke-width="0.35">specific</text>
<text x="478.90" y="330.00" font-size="6.2" font-weight="bold" fill="#111" text-anchor="start" font-family='"Liberation Sans", sans-serif' textLength="42.00" lengthAdjust="spacingAndGlyphs" stroke="#111" stroke-width="0.35">developmental</text>
<text x="497.30" y="337.60" font-size="6.2" font-weight="bold" fill="#111" text-anchor="start" font-family='"Liberation Sans", sans-serif' textLength="23.50" lengthAdjust="spacingAndGlyphs" stroke="#111" stroke-width="0.35">disorder</text>
<text x="405.50" y="305.00" font-size="6.2" font-weight="bold" fill="#111" text-anchor="start" font-family='"Liberation Sans", sans-serif' textLength="14.30" lengthAdjust="spacingAndGlyphs" stroke="#111" stroke-width="0.35">heart</text>
<text x="405.50" y="312.70" font-size="6.2" font-weight="bold" fill="#111" text-anchor="start" font-family='"Liberation Sans", sans-serif' textLength="19.20" lengthAdjust="spacingAndGlyphs" stroke="#111" stroke-width="0.35">disease</text>
<text x="326.10" y="312.40" font-size="6.2" font-weight="bold" fill="#111" text-anchor="start" font-family='"Liberation Sans", sans-serif' textLength="22.50" lengthAdjust="spacingAndGlyphs" stroke="#111" stroke-width="0.35">auditory</text>
<text x="326.10" y="320.00" font-size="6.2" font-weight="bold" fill="#111" text-anchor="start" font-family='"Liberation Sans", sans-serif' textLength="19.40" lengthAdjust="spacingAndGlyphs" stroke="#111" stroke-width="0.35">system</text>
<text x="326.10" y="327.20" font-size="6.2" font-weight="bold" fill="#111" text-anchor="start" font-family='"Liberation Sans", sans-serif' textLength="19.60" lengthAdjust="spacingAndGlyphs" stroke="#111" stroke-width="0.35">disease</text>
<text x="299.50" y="337.60" font-size="6.2" font-weight="bold" fill="#111" text-anchor="start" font-family='"Liberation Sans", sans-serif' textLength="38.40" lengthAdjust="spacingAndGlyphs" stroke="#111" stroke-width="0.35">nonsyndromic</text>
<text x="299.50" y="345.30" font-size="6.2" font-weight="bold" fill="#111" text-anchor="start" font-family='"Liberation Sans", sans-serif' textLength="23.80" lengthAdjust="spacingAndGlyphs" stroke="#111" stroke-width="0.35">deafness</text>
<text x="368.90" y="316.40" font-size="6.2" font-weight="bold" fill="#fff" text-anchor="start" font-family='"Liberation Sans", sans-serif' textLength="25.00" lengthAdjust="spacingAndGlyphs" stroke="#fff" stroke-width="0.35">muscular</text>
<text x="369.30" y="323.70" font-size="6.2" font-weight="bold" fill="#fff" text-anchor="start" font-family='"Liberation Sans", sans-serif' textLength="19.30" lengthAdjust="spacingAndGlyphs" stroke="#fff" stroke-width="0.35">disease</text>
<text x="425.80" y="328.20" font-size="6.2" font-weight="bold" fill="#111" text-anchor="start" font-family='"Liberation Sans", sans-serif' textLength="28.80" lengthAdjust="spacingAndGlyphs" stroke="#111" stroke-width="0.35">cardiomyo-</text>
<text x="425.80" y="335.20" font-size="6.2" font-weight="bold" fill="#111" text-anchor="start" font-family='"Liberation Sans", sans-serif' textLength="15.40" lengthAdjust="spacingAndGlyphs" stroke="#111" stroke-width="0.35">pathy</text>
<text x="358.10" y="342.00" font-size="6.2" font-weight="bold" fill="#fff" text-anchor="start" font-family='"Liberation Sans", sans-serif' textLength="18.10" lengthAdjust="spacingAndGlyphs" stroke="#fff" stroke-width="0.35">muscle</text>
<text x="358.10" y="349.20" font-size="6.2" font-weight="bold" fill="#fff" text-anchor="start" font-family='"Liberation Sans", sans-serif' textLength="14.80" lengthAdjust="spacingAndGlyphs" stroke="#fff" stroke-width="0.35">tissue</text>
<text x="358.50" y="357.10" font-size="6.2" font-weight="bold" fill="#fff" text-anchor="start" font-family='"Liberation Sans", sans-serif' textLength="18.70" lengthAdjust="spacingAndGlyphs" stroke="#fff" stroke-width="0.35">disease</text>
<text x="387.60" y="351.00" font-size="6.2" font-weight="bold" fill="#111" text-anchor="start" font-family='"Liberation Sans", sans-serif' textLength="32.40" lengthAdjust="spacingAndGlyphs" stroke="#111" stroke-width="0.35">neuropathy</text>
<text x="446.00" y="350.50" font-size="6.2" font-weight="bold" fill="#111" text-anchor="start" font-family='"Liberation Sans", sans-serif' textLength="23.00" lengthAdjust="spacingAndGlyphs" stroke="#111" stroke-width="0.35">intrinsic</text>
<text x="446.00" y="358.40" font-size="6.2" font-weight="bold" fill="#111" text-anchor="start" font-family='"Liberation Sans", sans-serif' textLength="44.30" lengthAdjust="spacingAndGlyphs" stroke="#111" stroke-width="0.35">cardiomyopathy</text>
<text x="343.80" y="380.30" font-size="6.2" font-weight="bold" fill="#fff" text-anchor="start" font-family='"Liberation Sans", sans-serif' textLength="28.20" lengthAdjust="spacingAndGlyphs" stroke="#fff" stroke-width="0.35">myopathy</text>
<text x="388.60" y="374.40" font-size="6.2" font-weight="bold" fill="#111" text-anchor="start" font-family='"Liberation Sans", sans-serif' textLength="32.50" lengthAdjust="spacingAndGlyphs" stroke="#111" stroke-width="0.35">neuromuscu</text>
<text x="388.60" y="381.90" font-size="6.2" font-weight="bold" fill="#111" text-anchor="start" font-family='"Liberation Sans", sans-serif' textLength="27.40" lengthAdjust="spacingAndGlyphs" stroke="#111" stroke-width="0.35">lar disease</text>
<text x="329.60" y="405.60" font-size="6.2" font-weight="bold" fill="#111" text-anchor="start" font-family='"Liberation Sans", sans-serif' textLength="93.00" lengthAdjust="spacingAndGlyphs" stroke="#111" stroke-width="0.35">peripheral nervous system disease</text>
<text x="300.40" y="151.60" font-size="14.5" font-weight="bold" fill="#000" text-anchor="start" font-family='"Liberation Sans", sans-serif' textLength="6.30" lengthAdjust="spacingAndGlyphs">E</text>
</svg>
</body></html>
